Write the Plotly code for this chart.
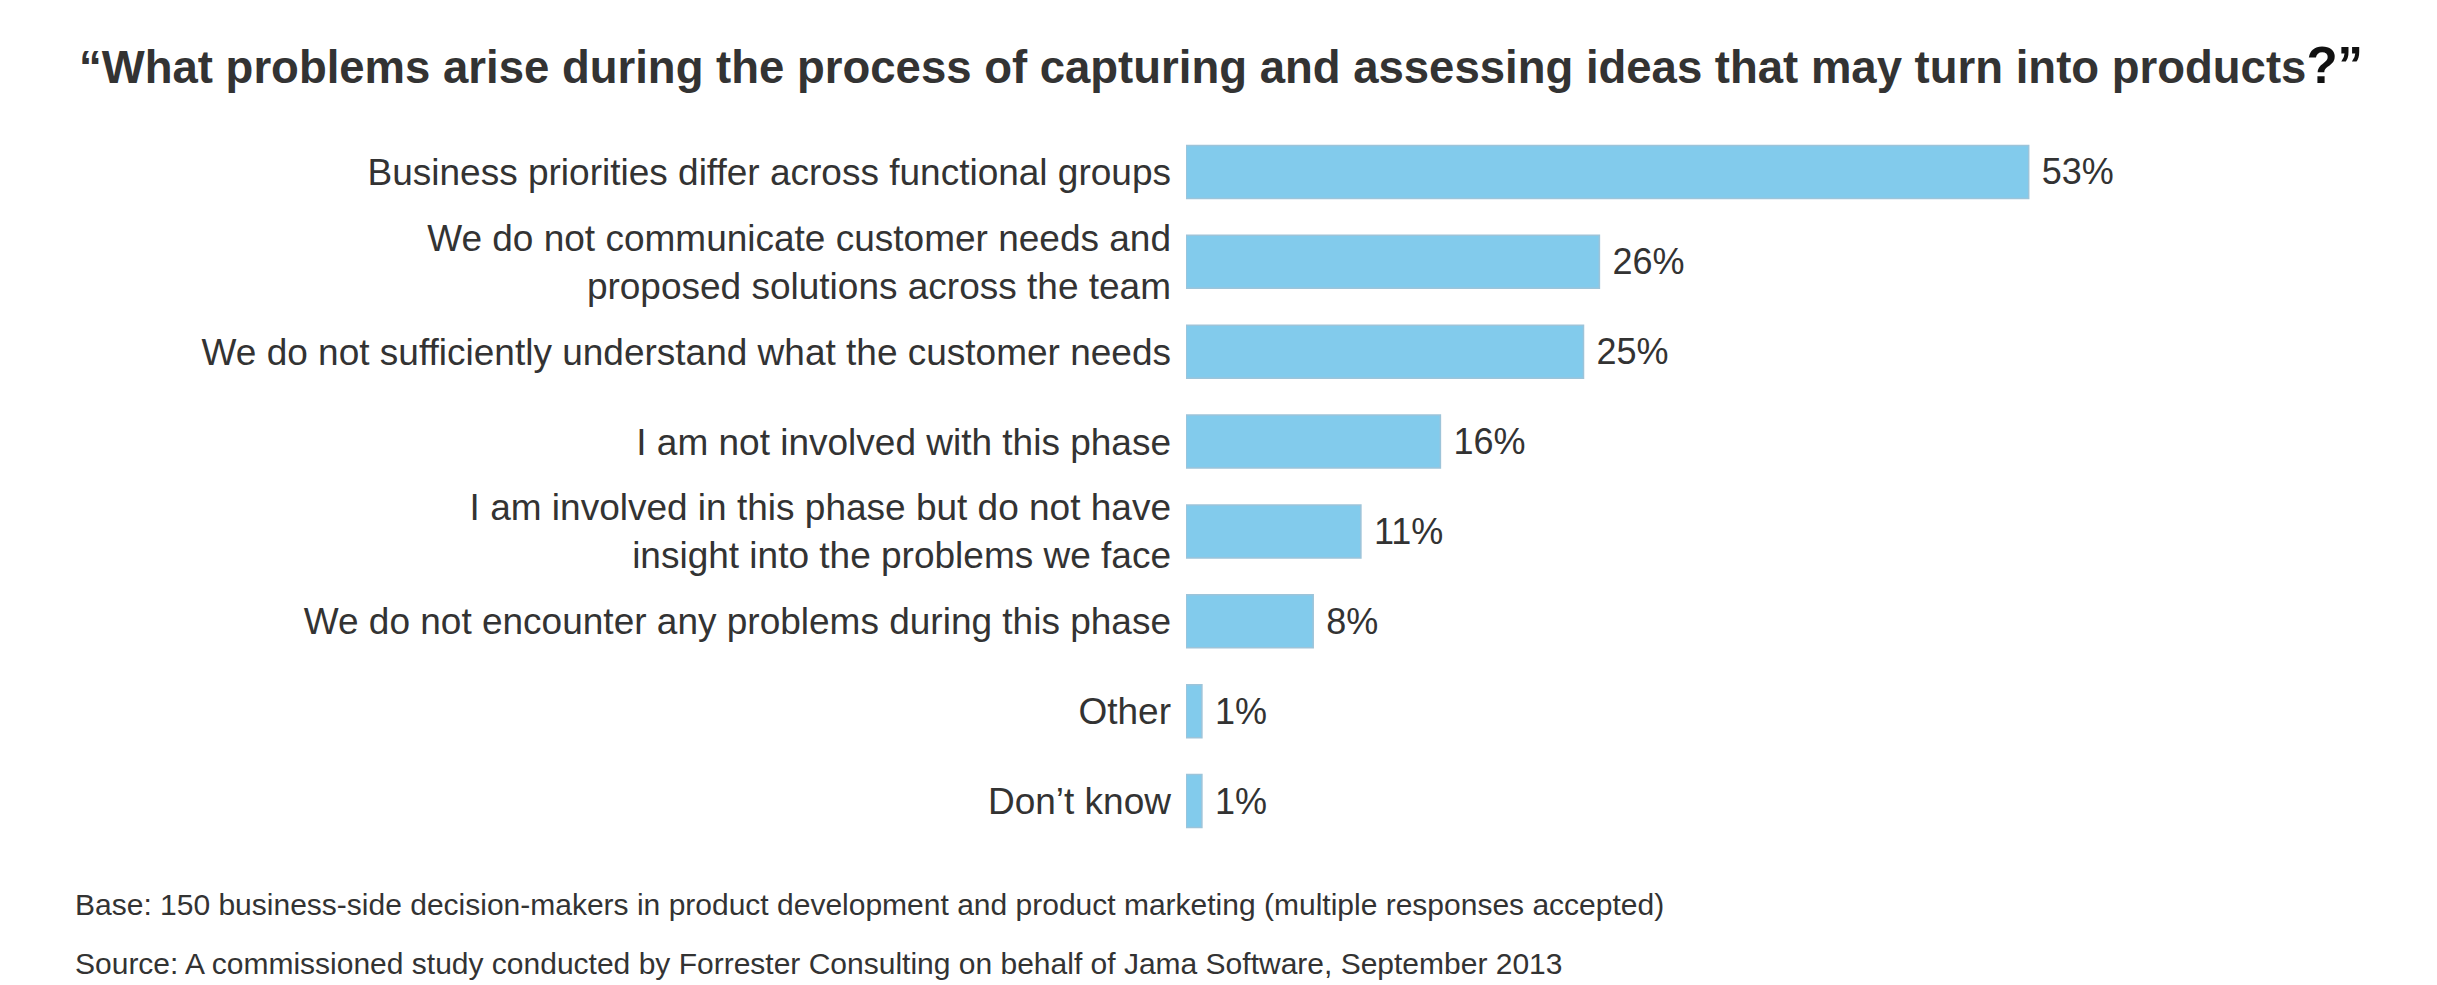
import plotly.graph_objects as go

# survey answers, top to bottom as in the chart
categories = [
    "Business priorities differ across functional groups",
    "We do not communicate customer needs and<br>proposed solutions across the team",
    "We do not sufficiently understand what the customer needs",
    "I am not involved with this phase",
    "I am involved in this phase but do not have<br>insight into the problems we face",
    "We do not encounter any problems during this phase",
    "Other",
    "Don\u2019t know",
]
percent = [53, 26, 25, 16, 11, 8, 1, 1]

title_text = ("\u201cWhat problems arise during the process of capturing and assessing ideas "
              "that may turn into products<span style='color:#111111;font-size:51px'>?\u201d</span>")
footnotes = [
    "Base: 150 business-side decision-makers in product development and product marketing (multiple responses accepted)",
    "Source: A commissioned study conducted by Forrester Consulting on behalf of Jama Software, September 2013",
]

# page body has an 8px margin, so everything is drawn 8px up/left
OFF = 8
W, H = 2437 - OFF, 985 - OFF
L, R, T, B = 1186 - OFF, 138, 127 - OFF, 139
plot_w = W - L - R
plot_h = H - T - B
FONT = "Liberation Sans, Arial, sans-serif"
TXT = "#333333"

fig = go.Figure()
fig.add_trace(go.Bar(
    y=categories,
    x=percent,
    orientation="h",
    marker=dict(color="#82CBEC", line=dict(color="#9DC4D9", width=1.5)),
    text=[" %d%%" % v for v in percent],
    textposition="outside",
    constraintext="none",
    cliponaxis=False,
    textfont=dict(family=FONT, size=36, color=TXT),
    hoverinfo="skip",
))

fig.update_layout(
    width=W, height=H,
    margin=dict(l=L, r=R, t=T, b=B),
    paper_bgcolor="white", plot_bgcolor="white",
    bargap=0.41,
    showlegend=False,
    font=dict(family=FONT, color=TXT),
    title=dict(text=title_text, x=(79 - OFF) / W, xanchor="left", xref="container",
               y=1 - (67 - OFF) / H, yanchor="middle", yref="container",
               font=dict(family=FONT, size=45.5, color=TXT, weight="bold")),
)
fig.update_xaxes(range=[0, plot_w / 15.9], visible=False)
fig.update_yaxes(autorange="reversed", showgrid=False, showline=False, zeroline=False,
                 ticks="", ticklabelstandoff=14,
                 tickfont=dict(family=FONT, size=37, color=TXT))

# footnotes under the chart, left aligned to the page
for i, note in enumerate(footnotes):
    y_px = 904 - OFF + i * 59
    fig.add_annotation(text=note, xref="paper", yref="paper",
                       x=(73 - OFF - L) / plot_w, xanchor="left",
                       y=(H - B - y_px) / plot_h, yanchor="middle",
                       showarrow=False, font=dict(family=FONT, size=30, color=TXT))

fig.write_html("out.html")
